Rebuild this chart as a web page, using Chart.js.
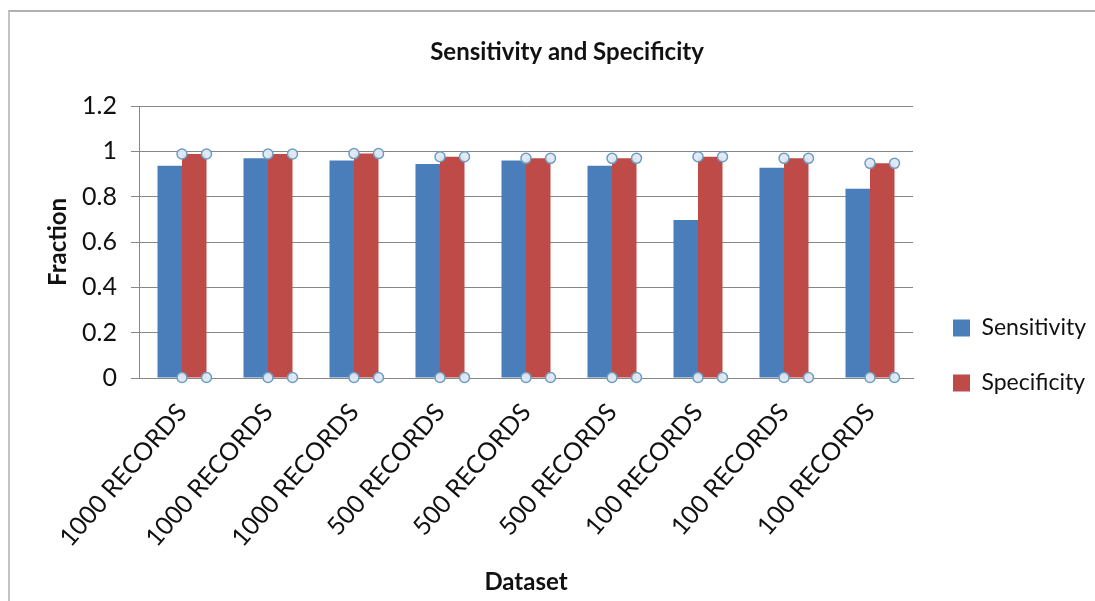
<!DOCTYPE html>
<html>
<head>
<meta charset="utf-8">
<script src="https://cdn.jsdelivr.net/npm/chart.js@4.4.1/dist/chart.umd.min.js"></script>
<style>
  html, body { margin: 0; padding: 0; background: #ffffff; }
  #wrap { position: relative; width: 1095px; height: 601px; }
  #frame { position: absolute; left: 8px; top: 10px; right: 0; bottom: 0;
           border-top: 2px solid #b0b0b0; border-left: 2px solid #c4c4c4; pointer-events: none; }
</style>
</head>
<body>
<div id="wrap">
  <canvas id="c"></canvas>
  <div id="frame"></div>
</div>
<script>
const categories = ['1000 RECORDS', '1000 RECORDS', '1000 RECORDS', '500 RECORDS', '500 RECORDS', '500 RECORDS', '100 RECORDS', '100 RECORDS', '100 RECORDS'];
const sensitivity = [0.936, 0.969, 0.960, 0.944, 0.960, 0.936, 0.697, 0.928, 0.835];
const specificity = [0.988, 0.988, 0.990, 0.976, 0.969, 0.969, 0.976, 0.969, 0.947];
const yTickLabels = ['0', '0.2', '0.4', '0.6', '0.8', '1', '1.2'];

const FONT = 'Lato, "Open Sans", "Noto Sans", sans-serif';

const handlesPlugin = {
  id: 'handles',
  afterDatasetsDraw(chart) {
    const meta = chart.getDatasetMeta(1);
    const ctx = chart.ctx;
    ctx.save();
    meta.data.forEach(bar => {
      const p = bar.getProps(['x', 'y', 'base', 'width'], true);
      const l = p.x - p.width / 2, r = p.x + p.width / 2;
      [[l, p.y], [r, p.y], [l, p.base], [r, p.base]].forEach(([cx, cy]) => {
        ctx.beginPath();
        ctx.arc(cx, cy, 5, 0, Math.PI * 2);
        ctx.fillStyle = 'rgba(222,234,244,0.95)';
        ctx.fill();
        ctx.lineWidth = 1.5;
        ctx.strokeStyle = '#6f9cc3';
        ctx.stroke();
      });
    });
    ctx.restore();
  }
};

new Chart(document.getElementById('c'), {
  type: 'bar',
  data: {
    labels: categories,
    datasets: [
      { label: 'Sensitivity', data: sensitivity, backgroundColor: '#4a7ebb', borderWidth: 0 },
      { label: 'Specificity', data: specificity, backgroundColor: '#be4b48', borderWidth: 0 }
    ]
  },
  plugins: [handlesPlugin],
  options: {
    responsive: true,
    maintainAspectRatio: false,
    animation: false,
    layout: { padding: { left: 39, top: 0, right: 0, bottom: 0 } },
    datasets: { bar: { categoryPercentage: 0.57, barPercentage: 1.0 } },
    plugins: {
      tooltip: { enabled: false },
      title: {
        display: true,
        text: 'Sensitivity and Specificity',
        color: '#111',
        font: { family: FONT, size: 24, weight: 'bold', lineHeight: 1.2 },
        padding: { top: 37.6, bottom: 39.6 }
      },
      legend: {
        display: true,
        position: 'right',
        align: 'start',
        fullSize: true,
        maxWidth: 174,
        title: { display: true, text: ' ', font: { size: 12, lineHeight: 1.2 }, padding: { top: 270.1, bottom: 0 } },
        labels: {
          color: '#111',
          font: { family: FONT, size: 23 },
          boxWidth: 17,
          boxHeight: 17,
          padding: 32
        }
      }
    },
    scales: {
      x: {
        grid: { display: false, drawTicks: false },
        border: { display: true, color: '#878787', width: 1 },
        ticks: {
          color: '#111',
          font: { family: FONT, size: 25 },
          minRotation: 49,
          maxRotation: 49,
          padding: 20,
          autoSkip: false
        },
        title: {
          display: true,
          text: 'Dataset',
          color: '#111',
          font: { family: FONT, size: 24, weight: 'bold', lineHeight: 1.2 },
          padding: { top: 0, bottom: 4.6 }
        },
        afterFit(s) { s.height = 223; }
      },
      y: {
        min: 0,
        max: 1.2,
        ticks: {
          stepSize: 0.2,
          color: '#111',
          font: { family: FONT, size: 25 },
          padding: 14,
          callback: (v, i) => yTickLabels[i]
        },
        grid: { color: '#878787', lineWidth: 1, drawTicks: true, tickLength: 8 },
        border: { display: true, color: '#878787', width: 1 },
        title: {
          display: true,
          text: 'Fraction',
          color: '#111',
          font: { family: FONT, size: 24, weight: 'bold', lineHeight: 1.2 },
          padding: { top: 4.6, bottom: 0 }
        },
        afterFit(s) { s.width = 100; }
      },
      gap: {
        position: 'right',
        display: true,
        grid: { display: false, drawTicks: false },
        border: { display: false },
        ticks: { display: false },
        afterFit(s) { s.width = 8; }
      }
    }
  }
});
</script>
</body>
</html>
